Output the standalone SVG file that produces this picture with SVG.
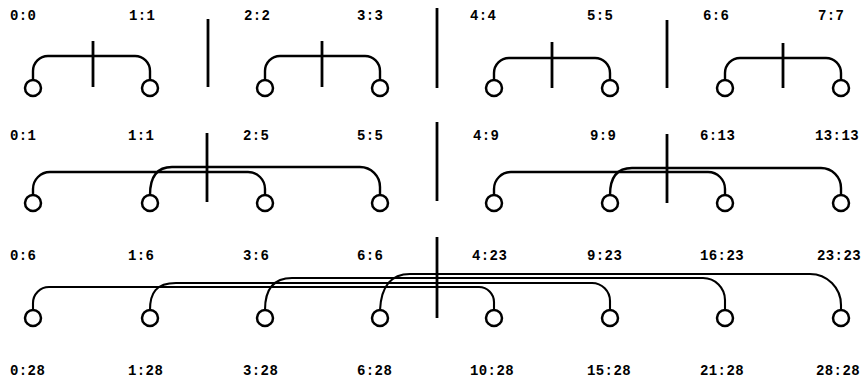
<svg xmlns="http://www.w3.org/2000/svg" width="864" height="384" viewBox="0 0 864 384">
<style>
.lbl{font-family:"Liberation Mono","Courier New",monospace;font-weight:bold;font-size:14px;letter-spacing:0.4px;fill:#000}
.node{fill:#fff;stroke:#000;stroke-width:2.5}
.arc{fill:none;stroke:#000;stroke-width:2.4}
.arc3{fill:none;stroke:#000;stroke-width:2.1}
.bar{stroke:#000;stroke-width:2.8;fill:none}
</style>
<rect width="864" height="384" fill="#fff"/>
<g id="labels-top-row">
<text class="lbl" x="10" y="20">0:0</text>
<text class="lbl" x="129" y="20">1:1</text>
<text class="lbl" x="244" y="20">2:2</text>
<text class="lbl" x="357" y="20">3:3</text>
<text class="lbl" x="470" y="20">4:4</text>
<text class="lbl" x="587" y="20">5:5</text>
<text class="lbl" x="703" y="20">6:6</text>
<text class="lbl" x="818" y="20">7:7</text>
</g>
<g id="connectors">
<path class="arc" d="M33 80 V71 A15 15 0 0 1 48 56 H135 A15 15 0 0 1 150 71 V80"/>
<path class="arc" d="M265 80 V71 A15 15 0 0 1 280 56 H365 A15 15 0 0 1 380 71 V80"/>
<path class="arc" d="M494 80 V73 A15 15 0 0 1 509 58 H595 A15 15 0 0 1 610 73 V80"/>
<path class="arc" d="M725 80 V73 A15 15 0 0 1 740 58 H826 A15 15 0 0 1 841 73 V80"/>
<path class="arc" d="M33 195 V189 A17 17 0 0 1 50 172 H248 A17 17 0 0 1 265 189 V195"/>
<path class="arc" d="M150 195 C150 180 155 167 172 167 H360 A20 20 0 0 1 380 187 V195"/>
<path class="arc" d="M494 195 V189 A17 17 0 0 1 511 172 H708 A17 17 0 0 1 725 189 V195"/>
<path class="arc" d="M610 195 C610 180 615 168 632 168 H821 A20 20 0 0 1 841 188 V195"/>
<path class="arc3" d="M33 310 V303 A16 16 0 0 1 49 287 H479 A15 15 0 0 1 494 302 V310"/>
<path class="arc3" d="M150 310 C150 293 156 283 176 283 H592 A18 18 0 0 1 610 301 V310"/>
<path class="arc3" d="M265 310 C265 292 271 278 292 278 H703 A22 22 0 0 1 725 300 V310"/>
<path class="arc3" d="M380 310 C381 290 388 274 410 274 H810 A31 31 0 0 1 841 305 V310"/>
</g>
<g id="bars">
<line class="bar" x1="93" y1="41" x2="93" y2="87"/>
<line class="bar" x1="208" y1="19" x2="208" y2="87"/>
<line class="bar" x1="322" y1="41" x2="322" y2="87"/>
<line class="bar" x1="437" y1="8" x2="437" y2="88"/>
<line class="bar" x1="552" y1="42" x2="552" y2="88"/>
<line class="bar" x1="667" y1="20" x2="667" y2="88"/>
<line class="bar" x1="783" y1="43" x2="783" y2="88"/>
<line class="bar" x1="207" y1="133" x2="207" y2="202"/>
<line class="bar" x1="437" y1="122" x2="437" y2="201"/>
<line class="bar" x1="667" y1="134" x2="667" y2="203"/>
<line class="bar" x1="437" y1="237" x2="437" y2="318"/>
</g>
<g id="n-r1-0"><circle class="node" cx="33" cy="88" r="8"/></g>
<g id="n-r1-1"><circle class="node" cx="150" cy="88" r="8"/></g>
<g id="n-r1-2"><circle class="node" cx="265" cy="88" r="8"/></g>
<g id="n-r1-3"><circle class="node" cx="380" cy="88" r="8"/></g>
<g id="n-r1-4"><circle class="node" cx="494" cy="88" r="8"/></g>
<g id="n-r1-5"><circle class="node" cx="610" cy="88" r="8"/></g>
<g id="n-r1-6"><circle class="node" cx="725" cy="88" r="8"/></g>
<g id="n-r1-7"><circle class="node" cx="841" cy="88" r="8"/></g>
<g id="n-r2-0"><text class="lbl" x="10" y="140">0:1</text><circle class="node" cx="33" cy="203" r="8"/></g>
<g id="n-r2-1"><text class="lbl" x="128" y="140">1:1</text><circle class="node" cx="150" cy="203" r="8"/></g>
<g id="n-r2-2"><text class="lbl" x="243" y="140">2:5</text><circle class="node" cx="265" cy="203" r="8"/></g>
<g id="n-r2-3"><text class="lbl" x="357" y="140">5:5</text><circle class="node" cx="380" cy="203" r="8"/></g>
<g id="n-r2-4"><text class="lbl" x="473" y="140">4:9</text><circle class="node" cx="494" cy="203" r="8"/></g>
<g id="n-r2-5"><text class="lbl" x="590" y="140">9:9</text><circle class="node" cx="610" cy="203" r="8"/></g>
<g id="n-r2-6"><text class="lbl" x="700" y="140">6:13</text><circle class="node" cx="725" cy="203" r="8"/></g>
<g id="n-r2-7"><text class="lbl" x="815" y="140">13:13</text><circle class="node" cx="841" cy="203" r="8"/></g>
<g id="n-r3-0"><text class="lbl" x="10" y="260">0:6</text><circle class="node" cx="33" cy="318" r="8"/><text class="lbl" x="10" y="375">0:28</text></g>
<g id="n-r3-1"><text class="lbl" x="128" y="260">1:6</text><circle class="node" cx="150" cy="318" r="8"/><text class="lbl" x="128" y="375">1:28</text></g>
<g id="n-r3-2"><text class="lbl" x="243" y="260">3:6</text><circle class="node" cx="265" cy="318" r="8"/><text class="lbl" x="243" y="375">3:28</text></g>
<g id="n-r3-3"><text class="lbl" x="357" y="260">6:6</text><circle class="node" cx="380" cy="318" r="8"/><text class="lbl" x="357" y="375">6:28</text></g>
<g id="n-r3-4"><text class="lbl" x="472" y="260">4:23</text><circle class="node" cx="494" cy="318" r="8"/><text class="lbl" x="470" y="375">10:28</text></g>
<g id="n-r3-5"><text class="lbl" x="587" y="260">9:23</text><circle class="node" cx="610" cy="318" r="8"/><text class="lbl" x="587" y="375">15:28</text></g>
<g id="n-r3-6"><text class="lbl" x="700" y="260">16:23</text><circle class="node" cx="725" cy="318" r="8"/><text class="lbl" x="700" y="375">21:28</text></g>
<g id="n-r3-7"><text class="lbl" x="817" y="260">23:23</text><circle class="node" cx="841" cy="318" r="8"/><text class="lbl" x="816" y="375">28:28</text></g>
</svg>
